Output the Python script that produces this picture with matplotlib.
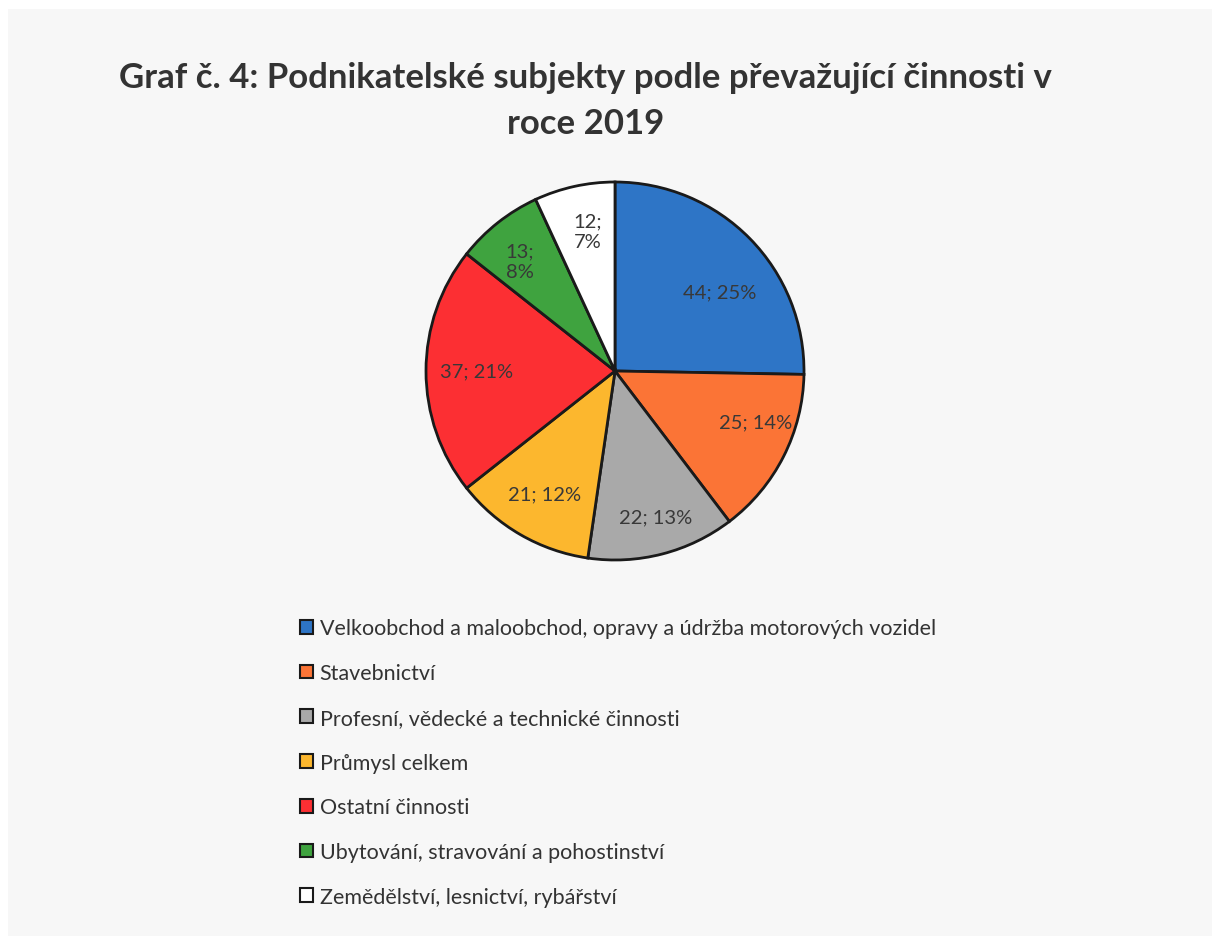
import numpy as np
import matplotlib.pyplot as plt
from matplotlib.patches import Rectangle, Patch

categories = ['Velkoobchod a maloobchod, opravy a údržba motorových vozidel',
              'Stavebnictví',
              'Profesní, vědecké a technické činnosti',
              'Průmysl celkem',
              'Ostatní činnosti',
              'Ubytování, stravování a pohostinství',
              'Zemědělství, lesnictví, rybářství']
values = [44, 25, 22, 21, 37, 13, 12]
percents = ['25%', '14%', '13%', '12%', '21%', '8%', '7%']
colors = ['#2e75c6', '#fb7436', '#a9a9a9', '#fcb72e', '#fc2f33', '#3fa33f', '#ffffff']

plt.rcParams['font.family'] = ['Lato', 'DejaVu Sans']

fig = plt.figure(figsize=(12.12, 9.37), dpi=100)
fig.patch.set_facecolor('white')
# light grey page area behind the chart
fig.patches.append(Rectangle((8 / 1212, 0), 1.1, 1 - 10 / 937, transform=fig.transFigure,
                             facecolor='#f7f7f7', edgecolor='none', zorder=-1))

fig.text(0.483, 0.917, 'Graf č. 4: Podnikatelské subjekty podle převažující činnosti v',
         ha='center', va='center', fontsize=25, fontweight='bold', color='#333333')
fig.text(0.483, 0.868, 'roce 2019', ha='center', va='center', fontsize=25,
         fontweight='bold', color='#333333')

# pie: centre (615, 372), radius ~189 px
r = 189
ax = fig.add_axes([(615 - r) / 1212, 1 - (372 + r) / 937, 2 * r / 1212, 2 * r / 937])
wedges, _ = ax.pie(values, colors=colors, startangle=90, counterclock=False,
                   wedgeprops=dict(edgecolor='#1a1a1a', linewidth=2))
ax.set_aspect('equal')
ax.set_xlim(-1, 1)
ax.set_ylim(-1, 1)

# label placement: radial fraction + angle nudge from slice middle (like Excel best fit)
total = sum(values)
radii = [0.695, 0.79, 0.80, 0.75, 0.73, 0.77, 0.755]
nudge = [-7.5, 7, 1, 0, 0, 2.5, -1.5]
two_line = [False, False, False, False, False, True, True]
start = 90.0
for v, p, rr, dn, tl in zip(values, percents, radii, nudge, two_line):
    ang = start - 360.0 * v / total / 2 + dn
    start -= 360.0 * v / total
    x = rr * np.cos(np.radians(ang))
    y = rr * np.sin(np.radians(ang))
    txt = f'{v};\n{p}' if tl else f'{v}; {p}'
    ax.text(x, y, txt, ha='center', va='center', fontsize=14.5, color='#383838',
            linespacing=1.25)

handles = [Patch(facecolor=c, edgecolor='#1a1a1a', linewidth=1.5) for c in colors]
fig.legend(handles, categories, loc='upper left', bbox_to_anchor=(281 / 1212, 1 - 600 / 937),
           frameon=False, fontsize=15.5, labelspacing=1.15, handlelength=0.6,
           handleheight=0.6, handletextpad=0.3, labelcolor='#333333')

fig.savefig('out.png', dpi=100)
